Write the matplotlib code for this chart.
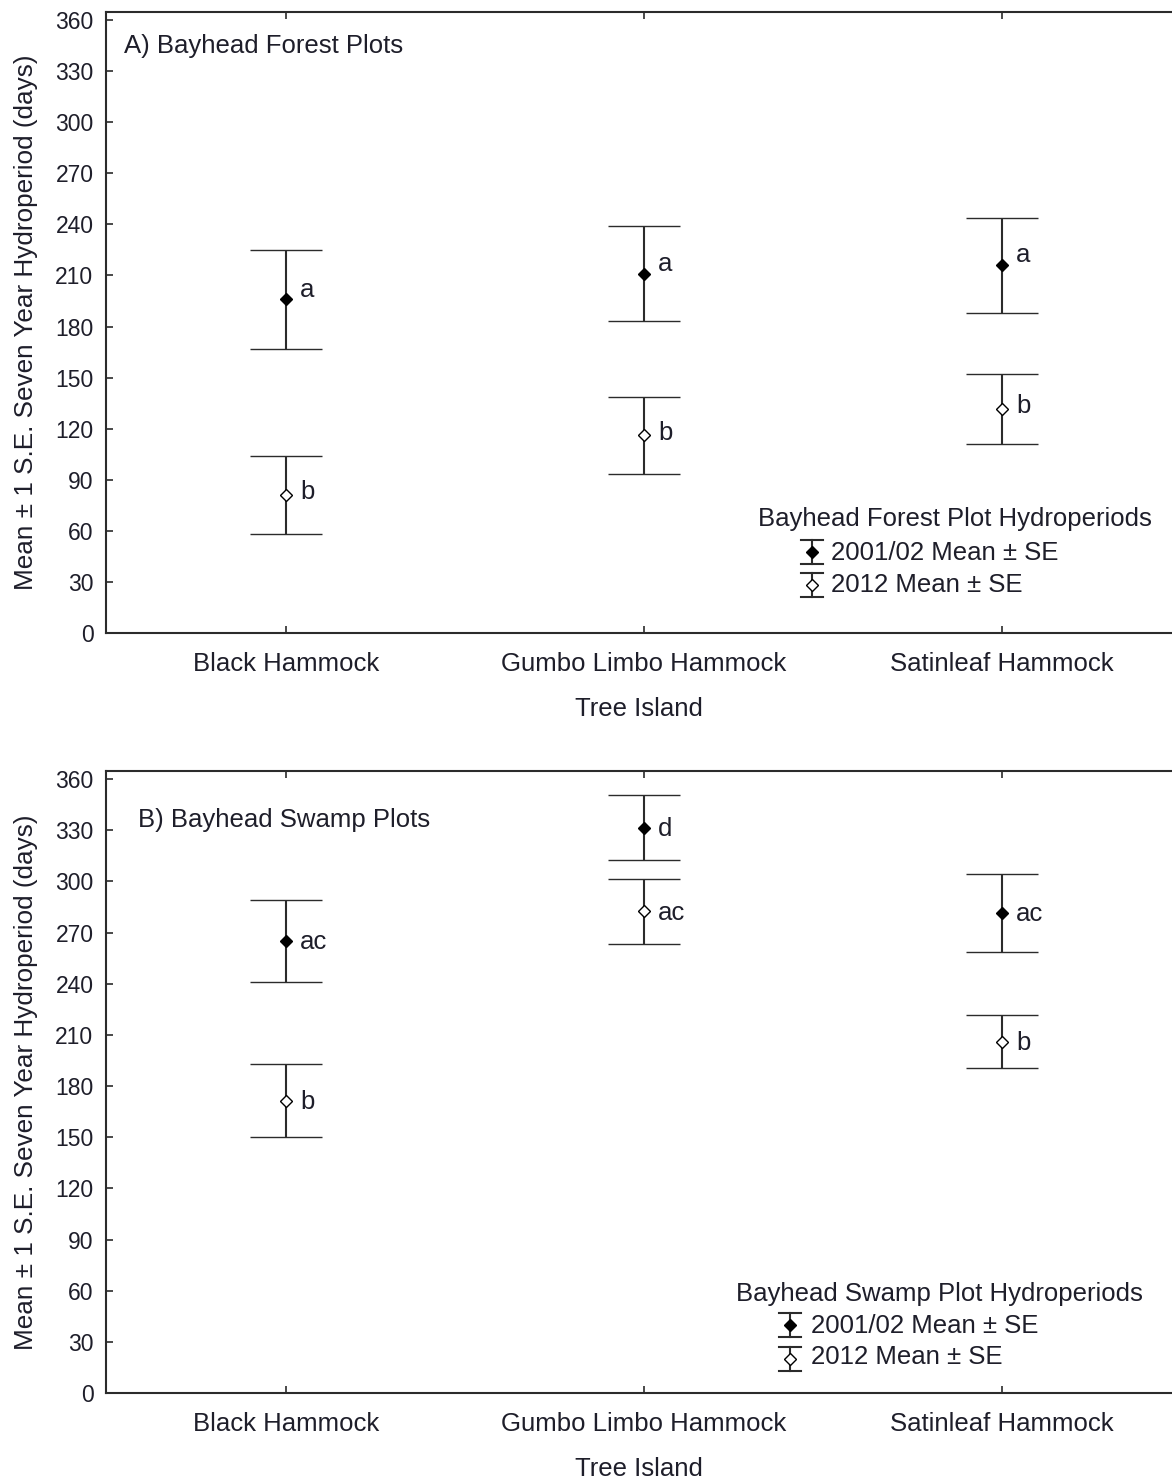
import matplotlib
matplotlib.use("Agg")
import matplotlib.pyplot as plt
import numpy as np

plt.rcParams["font.family"] = ["Liberation Sans", "DejaVu Sans"]

# ---- data ----
islands = ["Black Hammock", "Gumbo Limbo Hammock", "Satinleaf Hammock"]

forest_0102_mean = [196, 211, 216]
forest_0102_se = [29, 28, 28]
forest_2012_mean = [81, 116, 131.5]
forest_2012_se = [23, 22.5, 20.5]
forest_0102_letters = ["a", "a", "a"]
forest_2012_letters = ["b", "b", "b"]

swamp_0102_mean = [265, 331.5, 281.5]
swamp_0102_se = [24, 19, 23]
swamp_2012_mean = [171.5, 282.5, 206]
swamp_2012_se = [21.5, 19, 15.5]
swamp_0102_letters = ["ac", "d", "ac"]
swamp_2012_letters = ["b", "ac", "b"]

yticks = np.arange(0, 361, 30)

LINE = "#2b2b2b"
TEXT = "#1e1e2a"
W, H = 1172, 1482

fig = plt.figure(figsize=(W / 100, H / 100), dpi=100)
axA = fig.add_axes([106 / W, 849 / H, 1066 / W, 621 / H])
axB = fig.add_axes([106 / W, 89 / H, 1066 / W, 622 / H])

xs = np.arange(1, len(islands) + 1)


def draw_series(ax, means, ses, letters, filled, dy=2):
    ax.errorbar(xs, means, yerr=ses, fmt="D", color=LINE, ecolor=LINE,
                elinewidth=1.5, capsize=26, capthick=1.5, ms=6.5,
                mfc="black" if filled else "white", mec="black", mew=1.0,
                zorder=3)
    for x, m, lab in zip(xs, means, letters):
        ax.annotate(lab, (x, m), xytext=(10, dy), textcoords="offset points",
                    ha="left", va="center", fontsize=18.5, color=TEXT)


def legend_key(ax, x, y, filled, dx=11 / 1066, dy=12 / 621):
    kw = dict(color=LINE, lw=1.5, transform=ax.transAxes, clip_on=False)
    ax.plot([x, x], [y - dy, y + dy], **kw)
    ax.plot([x - dx, x + dx], [y + dy, y + dy], **kw)
    ax.plot([x - dx, x + dx], [y - dy, y - dy], **kw)
    ax.plot([x], [y], marker="D", ms=6, mfc="black" if filled else "white",
            mec="black", mew=1.0, transform=ax.transAxes, clip_on=False,
            zorder=4)


def style_axes(ax):
    ax.set_xlim(0.497, 3.475)
    ax.set_ylim(0, 364.7)
    ax.set_yticks(yticks)
    ax.set_xticks(xs)
    ax.set_xticklabels(islands)
    ax.tick_params(axis="y", direction="in", length=5, width=1.2,
                   color=LINE, labelsize=16.5, labelcolor=TEXT, pad=9)
    ax.tick_params(axis="x", direction="in", length=5, width=1.2,
                   color=LINE, labelsize=18.5, labelcolor=TEXT, pad=13.5,
                   top=True)
    for s in ("left", "bottom", "top"):
        ax.spines[s].set_color(LINE)
        ax.spines[s].set_linewidth(1.5)
    ax.spines["right"].set_visible(False)
    ax.set_xlabel("Tree Island", fontsize=18.5, color=TEXT, labelpad=15)
    ax.set_ylabel("Mean \u00b1 1 S.E. Seven Year Hydroperiod (days)",
                  fontsize=18.8, color=TEXT, labelpad=12.5)


# ---- panel A ----
draw_series(axA, forest_0102_mean, forest_0102_se, forest_0102_letters, True,
            dy=7)
draw_series(axA, forest_2012_mean, forest_2012_se, forest_2012_letters, False,
            dy=2)
style_axes(axA)
axA.text(0.017, 0.945, "A) Bayhead Forest Plots", transform=axA.transAxes,
         fontsize=18.5, color=TEXT, ha="left", va="center")
axA.text(0.6116, 0.1836, "Bayhead Forest Plot Hydroperiods",
         transform=axA.transAxes, fontsize=18.5, color=TEXT, va="center")
legend_key(axA, 0.6620, 0.1304, True)
legend_key(axA, 0.6620, 0.0765, False)
axA.text(0.6797, 0.1288, "2001/02 Mean \u00b1 SE", transform=axA.transAxes,
         fontsize=18.5, color=TEXT, va="center")
axA.text(0.6797, 0.0773, "2012 Mean \u00b1 SE", transform=axA.transAxes,
         fontsize=18.5, color=TEXT, va="center")

# ---- panel B ----
draw_series(axB, swamp_0102_mean, swamp_0102_se, swamp_0102_letters, True,
            dy=-1)
draw_series(axB, swamp_2012_mean, swamp_2012_se, swamp_2012_letters, False,
            dy=-1)
style_axes(axB)
axB.text(0.030, 0.921, "B) Bayhead Swamp Plots", transform=axB.transAxes,
         fontsize=18.5, color=TEXT, ha="left", va="center")
axB.text(0.5910, 0.1592, "Bayhead Swamp Plot Hydroperiods",
         transform=axB.transAxes, fontsize=18.5, color=TEXT, va="center")
legend_key(axB, 0.6417, 0.1093, True, dy=12 / 622)
legend_key(axB, 0.6417, 0.0547, False, dy=12 / 622)
axB.text(0.6614, 0.1077, "2001/02 Mean \u00b1 SE", transform=axB.transAxes,
         fontsize=18.5, color=TEXT, va="center")
axB.text(0.6614, 0.0579, "2012 Mean \u00b1 SE", transform=axB.transAxes,
         fontsize=18.5, color=TEXT, va="center")

fig.savefig("out.png", dpi=100)
